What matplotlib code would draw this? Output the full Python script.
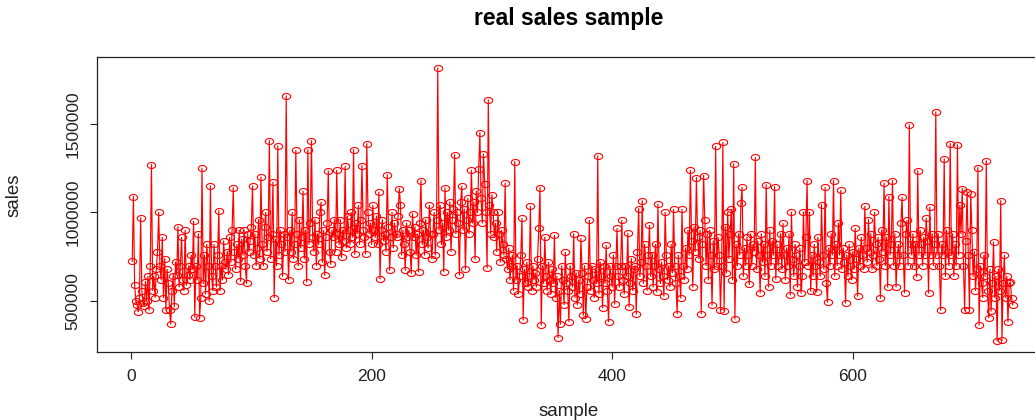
import numpy as np
import matplotlib
matplotlib.use("Agg")
import matplotlib.pyplot as plt
from matplotlib.path import Path

plt.rcParams['font.family'] = ['Liberation Sans', 'DejaVu Sans']

# sales values in thousands (sample index 1..733)
sales_thousands = [
    725, 1090, 590, 500, 480, 440, 520, 970, 560, 490,
    470, 610, 500, 640, 450, 700, 1270, 560, 640, 520,
    680, 780, 1000, 700, 620, 860, 520, 740, 450, 680,
    600, 450, 370, 560, 640, 470, 720, 650, 920, 580,
    700, 860, 620, 560, 900, 590, 650, 700, 620, 760,
    680, 950, 410, 700, 620, 880, 405, 520, 1250, 600,
    760, 540, 820, 700, 500, 1150, 640, 560, 820, 700,
    580, 760, 1010, 560, 700, 620, 840, 720, 680, 780,
    650, 860, 720, 900, 1140, 780, 680, 820, 740, 900,
    612, 850, 760, 900, 700, 600, 880, 780, 840, 920,
    1150, 760, 880, 700, 800, 960, 740, 1200, 820, 700,
    920, 1000, 780, 860, 1405, 740, 880, 1170, 520, 850,
    700, 1375, 760, 900, 820, 640, 880, 780, 1657, 860,
    620, 900, 780, 1000, 740, 820, 1350, 880, 700, 960,
    800, 860, 1120, 740, 900, 608, 1355, 820, 940, 1405,
    860, 780, 960, 700, 880, 820, 1000, 1058, 720, 900,
    646, 860, 940, 1235, 780, 708, 900, 860, 960, 780,
    1238, 880, 820, 960, 747, 900, 840, 1260, 800, 980,
    900, 820, 1000, 860, 1355, 764, 940, 880, 1040, 820,
    960, 1264, 900, 860, 766, 1388, 1000, 880, 940, 820,
    1040, 900, 860, 980, 820, 1114, 625, 900, 960, 840,
    880, 780, 1213, 920, 674, 860, 1000, 800, 940, 880,
    860, 980, 1135, 1045, 760, 900, 820, 674, 940, 860,
    900, 780, 657, 994, 860, 920, 760, 880, 665, 940,
    1180, 820, 900, 760, 960, 860, 800, 1040, 880, 740,
    880, 1000, 760, 960, 1815, 900, 1040, 820, 940, 665,
    1140, 860, 1000, 900, 1060, 780, 960, 1020, 1326, 880,
    1000, 940, 646, 1060, 1148, 900, 1020, 680, 960, 1080,
    880, 1000, 1238, 940, 1060, 736, 1120, 1000, 1243, 1450,
    1080, 940, 1330, 1160, 1000, 687, 1635, 1040, 880, 1100,
    1005, 860, 940, 780, 1000, 880, 720, 900, 820, 760,
    1165, 740, 680, 800, 620, 700, 760, 560, 1287, 620,
    700, 541, 640, 760, 967, 393, 680, 600, 720, 580,
    640, 1034, 560, 700, 620, 660, 580, 740, 912, 1140,
    365, 700, 600, 861, 640, 560, 720, 620, 540, 680,
    600, 871, 520, 640, 294, 560, 371, 700, 620, 480,
    775, 600, 560, 384, 700, 640, 580, 880, 520, 660,
    480, 620, 540, 854, 660, 420, 700, 400, 580, 640,
    955, 560, 700, 620, 520, 680, 600, 1320, 540, 720,
    640, 462, 700, 600, 815, 560, 384, 700, 640, 580,
    760, 483, 700, 910, 640, 580, 700, 955, 620, 540,
    700, 640, 882, 468, 600, 740, 560, 680, 700, 427,
    780, 1022, 640, 720, 1067, 600, 820, 700, 560, 760,
    927, 640, 760, 580, 700, 820, 552, 1047, 680, 600,
    720, 640, 528, 1002, 760, 620, 700, 580, 820, 660,
    1017, 700, 600, 429, 760, 640, 517, 1017, 700, 620,
    800, 680, 900, 760, 1238, 840, 579, 920, 780, 1197,
    860, 740, 900, 429, 820, 1208, 960, 700, 880, 620,
    900, 760, 478, 840, 680, 1373, 700, 860, 760, 450,
    700, 1395, 444, 920, 660, 1000, 740, 880, 1018, 620,
    1275, 399, 820, 700, 880, 760, 1052, 1142, 640, 800,
    700, 860, 760, 594, 880, 700, 820, 780, 1310, 680,
    840, 760, 547, 880, 720, 820, 640, 1157, 760, 580,
    900, 700, 840, 760, 1146, 624, 820, 700, 760, 880,
    680, 938, 760, 620, 800, 700, 880, 534, 1002, 740,
    640, 820, 760, 580, 700, 800, 545, 640, 1002, 720,
    860, 1180, 700, 1002, 556, 760, 640, 820, 700, 552,
    860, 720, 640, 1045, 760, 680, 1142, 600, 494, 800,
    700, 880, 760, 1180, 640, 820, 700, 940, 760, 1124,
    680, 800, 720, 489, 760, 640, 820, 700, 620, 780,
    680, 910, 740, 528, 800, 700, 860, 760, 680, 1034,
    800, 720, 960, 780, 880, 680, 760, 1000, 820, 700,
    860, 740, 517, 900, 780, 1165, 700, 860, 579, 1090,
    760, 820, 1180, 700, 880, 579, 760, 820, 700, 940,
    1086, 760, 547, 880, 955, 700, 1494, 820, 760, 880,
    700, 820, 637, 1236, 760, 900, 820, 700, 860, 760,
    967, 840, 545, 1030, 760, 880, 700, 820, 1567, 760,
    880, 700, 450, 820, 760, 1303, 640, 900, 780, 700,
    1388, 760, 880, 640, 820, 700, 1382, 760, 1040, 880,
    1135, 700, 450, 840, 1118, 760, 450, 1103, 900, 640,
    780, 560, 680, 1253, 365, 700, 600, 520, 760, 640,
    1292, 560, 406, 680, 444, 600, 833, 520, 640, 275,
    680, 560, 1067, 280, 600, 758, 520, 640, 384, 600,
    608, 520, 478,
]

x_ticks = [0, 200, 400, 600]
y_ticks = [500000, 1000000, 1500000]
title = "real sales sample"
x_label = "sample"
y_label = "sales"

sales = np.array(sales_thousands, dtype=float) * 1000
sample = np.arange(1, len(sales) + 1)

W, H = 1035, 420
fig = plt.figure(figsize=(W / 100, H / 100), dpi=100)
ax = fig.add_axes([97 / W, (H - 352) / H, (1048 - 97) / W, (352 - 57) / H])

theta = np.linspace(0, 2 * np.pi, 41)
ellipse = Path(np.column_stack([np.cos(theta), 0.72 * np.sin(theta)]), closed=True)

ax.plot(sample, sales, color='red', lw=0.85, marker=ellipse, ms=6,
        mfc='none', mec='red', mew=0.8)

xr = sample.max() - sample.min()
yr = sales.max() - sales.min()
ax.set_xlim(sample.min() - 0.04 * xr, sample.max() + 0.04 * xr)
ax.set_ylim(sales.min() - 0.04 * yr, sales.max() + 0.04 * yr)

ax.set_xticks(x_ticks)
ax.set_xticklabels([str(v) for v in x_ticks])
ax.set_yticks(y_ticks)
ax.set_yticklabels([str(v) for v in y_ticks], rotation=90, va='center')
ax.tick_params(direction='out', length=5, width=0.8, labelsize=12.5, pad=7, colors='#222222')
for s in ax.spines.values():
    s.set_linewidth(0.9)
    s.set_color('#222222')

fig.text(569 / W, 1 - 18 / H, title, ha='center', va='center', fontsize=16.5, fontweight='bold')
fig.text(569 / W, 1 - 412 / H, x_label, ha='center', va='center', fontsize=13.5, color='#222222')
fig.text(14 / W, 1 - 195 / H, y_label, ha='center', va='center', fontsize=13.5, rotation=90, color='#222222')

fig.savefig("out.png", dpi=100)
